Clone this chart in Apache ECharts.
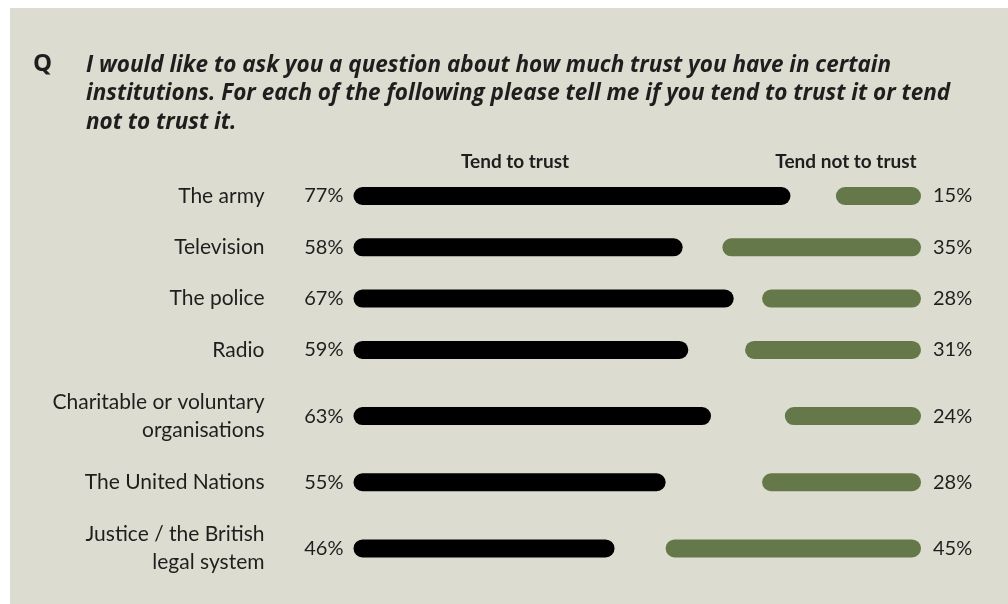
<!DOCTYPE html>
<html>
<head>
<meta charset="utf-8">
<style>
  html, body { margin: 0; padding: 0; background: #ffffff; }
  #chart { position: absolute; left: 10px; top: 8px; width: 998px; height: 596px; background: #dcdcd0; }
</style>
<script src="https://cdn.jsdelivr.net/npm/echarts@6/dist/echarts.min.js"></script>
</head>
<body>
<div id="chart"></div>
<script>
// Institutions, in display order (line breaks mark two-line labels)
const categories = [
  'The army',
  'Television',
  'The police',
  'Radio',
  'Charitable or voluntary\norganisations',
  'The United Nations',
  'Justice / the British\nlegal system'
];
// Share answering "Tend to trust" (%)
const tendToTrust = [77, 58, 67, 59, 63, 55, 46];
// Share answering "Tend not to trust" (%)
const tendNotToTrust = [15, 35, 28, 31, 24, 28, 45];

const questionText = 'I would like to ask you a question about how much trust you have in certain\ninstitutions. For each of the following please tell me if you tend to trust it or tend\nnot to trust it.';
const headerTrust = 'Tend to trust';
const headerNotTrust = 'Tend not to trust';

// Row sizes grow with the number of label lines
const EXTRA_PER_LINE = 0.58;
const rowSizes = categories.map(c => 1 + EXTRA_PER_LINE * (c.split('\n').length - 1));
const rowCenters = [];
let acc = 0;
rowSizes.forEach(s => { rowCenters.push(acc + s / 2); acc += s; });
const totalRows = acc;

const TEXT = '#1e1e1e';
const GREEN = '#657849';
const FONT = 'Lato, "Noto Sans", sans-serif';
const QFONT = '"Open Sans", Lato, sans-serif';
const BAR_H = 18;

const chart = echarts.init(document.getElementById('chart'), null, { renderer: 'canvas' });

function capsule(x0, x1, cy, color) {
  const w = Math.max(x1 - x0, BAR_H);
  return {
    type: 'rect',
    shape: { x: x0, y: cy - BAR_H / 2, width: w, height: BAR_H, r: BAR_H / 2 },
    style: { fill: color }
  };
}

const trustData = tendToTrust.map((v, i) => [v, rowCenters[i], i]);
const notTrustData = tendNotToTrust.map((v, i) => [v, rowCenters[i], i]);

const option = {
  backgroundColor: 'transparent',
  animation: false,
  title: [
    {
      text: 'Q',
      left: 23, top: 44, padding: 0,
      textStyle: { fontFamily: QFONT, fontWeight: 'bold', fontSize: 24, color: TEXT }
    },
    {
      text: questionText,
      left: 76, top: 43, padding: 0,
      textStyle: { fontFamily: QFONT, fontWeight: 'bold', fontStyle: 'italic', fontSize: 22.5, lineHeight: 28.5, color: TEXT }
    },
    {
      text: headerTrust,
      left: 505, top: 144, padding: 0, textAlign: 'center',
      textStyle: { fontFamily: FONT, fontWeight: 'bold', fontSize: 19, color: TEXT }
    },
    {
      text: headerNotTrust,
      left: 836, top: 144, padding: 0, textAlign: 'center',
      textStyle: { fontFamily: FONT, fontWeight: 'bold', fontSize: 19, color: TEXT }
    }
  ],
  grid: { left: 343.5, width: 567.5, top: 162.35, height: 51.3 * totalRows },
  xAxis: { type: 'value', min: 0, max: 100, show: false },
  yAxis: { type: 'value', min: 0, max: totalRows, inverse: true, show: false },
  series: [
    {
      type: 'custom',
      name: headerTrust,
      data: trustData,
      encode: { x: 0, y: 1 },
      renderItem: function (params, api) {
        const v = api.value(0), cy = api.value(1), idx = api.value(2);
        const p0 = api.coord([0, cy]);
        const p1 = api.coord([v, cy]);
        return {
          type: 'group',
          children: [
            capsule(p0[0], p1[0], p0[1], '#000000'),
            {
              type: 'text',
              style: {
                x: p0[0] - 10, y: p0[1], text: v + '%',
                align: 'right', verticalAlign: 'middle',
                font: '20px ' + FONT, fill: TEXT
              }
            },
            {
              type: 'text',
              style: {
                x: p0[0] - 89, y: p0[1], text: categories[idx],
                align: 'right', verticalAlign: 'middle',
                font: '21px ' + FONT, lineHeight: 28, fill: TEXT
              }
            }
          ]
        };
      }
    },
    {
      type: 'custom',
      name: headerNotTrust,
      data: notTrustData,
      encode: { x: 0, y: 1 },
      renderItem: function (params, api) {
        const v = api.value(0), cy = api.value(1);
        const pEnd = api.coord([100, cy]);
        const pStart = api.coord([100 - v, cy]);
        return {
          type: 'group',
          children: [
            capsule(pStart[0], pEnd[0], pEnd[1], GREEN),
            {
              type: 'text',
              style: {
                x: pEnd[0] + 12, y: pEnd[1], text: v + '%',
                align: 'left', verticalAlign: 'middle',
                font: '20px ' + FONT, fill: TEXT
              }
            }
          ]
        };
      }
    }
  ]
};

chart.setOption(option);
</script>
</body>
</html>
